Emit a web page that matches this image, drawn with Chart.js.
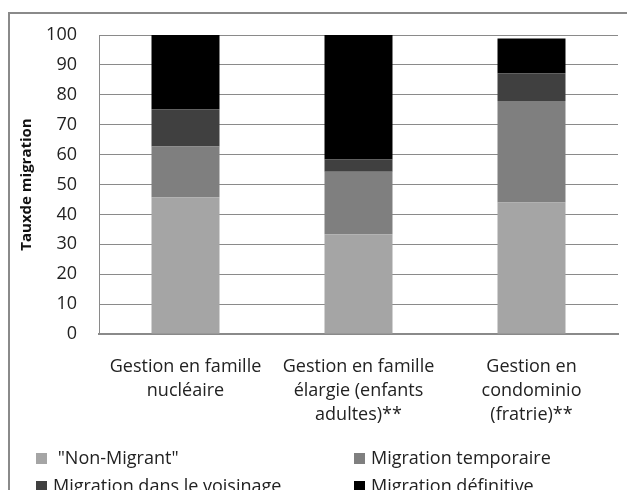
<!DOCTYPE html>
<html lang="fr">
<head>
<meta charset="utf-8">
<title>Taux de migration</title>
<script src="https://cdn.jsdelivr.net/npm/chart.js@4.4.0/dist/chart.umd.min.js"></script>
<style>
  body { margin: 0; background: #fff; }
  #wrap { position: relative; width: 627px; height: 490px; overflow: hidden; font-family: "Open Sans", sans-serif; }
  #frame { position: absolute; left: 8px; top: 12px; width: 640px; height: 500px; border: 2px solid #8a8a8a; box-sizing: border-box; }
  #myChart { position: absolute; left: 0; top: 0; }
  #legend { position: absolute; left: 36px; top: 443px; width: 600px; display: grid; grid-template-columns: 318px 270px; font-size: 18px; line-height: 28px; color: #222; white-space: pre; }
  #legend span.box { display: inline-block; width: 11px; height: 11px; margin-right: 6px; vertical-align: 0px; }
</style>
</head>
<body>
<div id="wrap">
  <div id="frame"></div>
  <canvas id="myChart" width="627" height="490"></canvas>
  <div id="legend"></div>
</div>
<script>
  // categories
  const categories = [
    ['Gestion en famille', 'nucléaire'],
    ['Gestion en famille', 'élargie (enfants', 'adultes)**'],
    ['Gestion en', 'condominio', '(fratrie)**']
  ];
  const seriesNames = [' "Non-Migrant"', 'Migration temporaire', 'Migration dans le voisinage', 'Migration définitive'];
  const seriesColors = ['#a5a5a5', '#7f7f7f', '#404040', '#000000'];

  // values (%)
  const nonMigrant = [45.7, 33.4, 44.0];
  const temporaire = [17.0, 20.9, 33.9];
  const voisinage = [12.5, 4.1, 9.3];
  const definitive = [24.8, 41.6, 11.6];

  const yTicks = [0, 10, 20, 30, 40, 50, 60, 70, 80, 90, 100];

  const seriesValues = [nonMigrant, temporaire, voisinage, definitive];
  const datasets = seriesNames.map((name, i) => ({
    label: name,
    data: seriesValues[i],
    backgroundColor: seriesColors[i],
    borderWidth: 0,
    barPercentage: 0.393,
    categoryPercentage: 1
  }));

  const config = {
    type: 'bar',
    data: { labels: categories, datasets: datasets },
    options: {
      responsive: false,
      animation: false,
      layout: { padding: { left: 12, top: 35, right: 9, bottom: 0 } },
      scales: {
        x: {
          stacked: true,
          grid: { display: false, drawTicks: false },
          border: { color: '#8a8a8a', width: 2 },
          ticks: {
            padding: 21,
            maxRotation: 0,
            autoSkip: false,
            color: '#222',
            font: { family: 'Open Sans', size: 18, lineHeight: 1.333 }
          },
          afterFit: function (axis) { axis.height = 156; }
        },
        y: {
          stacked: true,
          min: 0,
          max: 100,
          afterBuildTicks: function (axis) { axis.ticks = yTicks.map(v => ({ value: v })); },
          grid: { color: '#8a8a8a', drawTicks: false },
          border: { color: '#8a8a8a' },
          ticks: {
            padding: 22,
            color: '#222',
            font: { family: 'Open Sans', size: 18 }
          },
          title: {
            display: true,
            text: 'Tauxde migration',
            color: '#111',
            padding: { top: 6, bottom: 0 },
            font: { family: 'Open Sans', size: 15, weight: 'bold' }
          },
          afterFit: function (axis) { axis.width = 87; }
        }
      },
      plugins: {
        legend: { display: false },
        tooltip: { enabled: false }
      }
    }
  };

  const myChart = new Chart(document.getElementById('myChart'), config);

  // legend in two columns, like the original
  const legend = document.getElementById('legend');
  myChart.data.datasets.forEach(ds => {
    const item = document.createElement('div');
    const box = document.createElement('span');
    box.className = 'box';
    box.style.background = ds.backgroundColor;
    item.appendChild(box);
    item.appendChild(document.createTextNode(ds.label));
    legend.appendChild(item);
  });
</script>
</body>
</html>
